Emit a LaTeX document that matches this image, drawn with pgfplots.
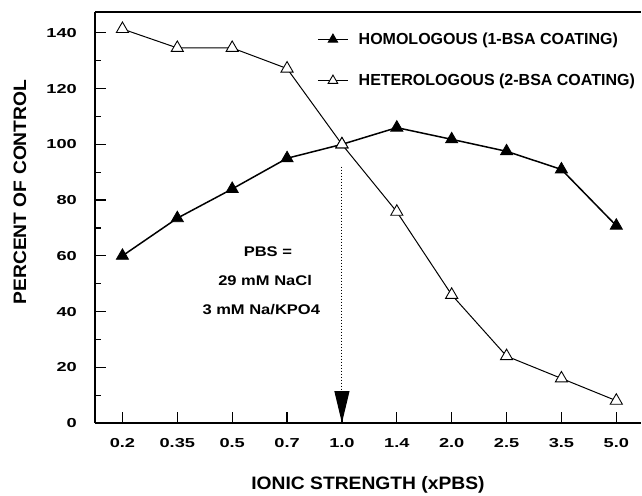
\documentclass[border=0pt]{standalone}
\usepackage{fontspec}
\setmainfont{Liberation Sans}
\newfontfamily\bsf{Liberation Sans Bold}
\usepackage{graphicx}
\usepackage{pgfplots}
\pgfplotsset{compat=1.18}
\usetikzlibrary{arrows.meta}
\newcommand{\wt}[1]{\scalebox{1.4}[1]{#1}}
\newcommand{\wn}[1]{\scalebox{1.18}[1]{#1}}
\newcommand{\wl}[1]{\scalebox{1.07}[1]{#1}}
\begin{document}
\begin{tikzpicture}
\useasboundingbox (-95pt,-72pt) rectangle (547pt,423pt);
\begin{axis}[
  at={(0,0)}, anchor=south west,
  width=546pt, height=411pt, scale only axis,
  xmin=-0.5, xmax=9.45, ymin=0, ymax=147.5,
  axis lines*=left,
  axis line style={line width=2pt},
  x axis line style={line width=2.5pt},
  xtick={0,...,9},
  xticklabels={\wt{0.2},\wt{0.35},\wt{0.5},\wt{0.7},\wt{1.0},\wt{1.4},\wt{2.0},\wt{2.5},\wt{3.5},\wt{5.0}},
  ytick={0,20,...,140},
  yticklabel={\wt{\pgfmathprintnumber{\tick}}},
  minor ytick={10,30,...,130},
  tick align=inside,
  major tick length=11pt, minor tick length=6pt,
  tick style={line width=1.2pt, black},
  /pgf/number format/assume math mode=true,
  tick label style={font=\bsf\fontsize{13}{13}\selectfont},
  yticklabel style={anchor=east, inner sep=0pt, xshift=-18pt},
  xticklabel style={anchor=north, inner sep=0pt, yshift=-15pt},
  xlabel={\wl{IONIC STRENGTH (xPBS)}},
  ylabel={\wl{PERCENT OF CONTROL}},
  xlabel style={font=\bsf\fontsize{18}{18}\selectfont, at={(rel axis cs:0.5,0)}, anchor=center, yshift=-62pt},
  ylabel style={font=\bsf\fontsize{18}{18}\selectfont, at={(rel axis cs:0,0.562)}, anchor=center, yshift=75pt},
  clip=false,
  legend style={at={(rel axis cs:0.4066,0.952)}, anchor=north west, draw=none, fill=none,
    font=\bsf\fontsize{16}{16}\selectfont, inner sep=0pt, row sep=26pt,
    nodes={inner sep=1pt}},
  legend cell align=left,
  legend image code/.code={\draw[mark repeat=2,mark phase=2,#1,mark size=5.5pt] plot coordinates {(0pt,0pt) (15pt,0pt) (30pt,0pt)};},
  /tikz/every odd column/.append style={column sep=9pt},
]
\addplot[black, line width=1.5pt, mark=triangle*, mark size=7pt, mark options={fill=black, solid, line width=0.8pt}]
  coordinates {(0,60) (1,73.5) (2,84) (3,95) (4,100) (5,106) (6,101.8) (7,97.5) (8,91) (9,70.8)};
\addlegendentry{HOMOLOGOUS (1-BSA COATING)}
\addplot[black, line width=1pt, mark=triangle*, mark size=7pt, mark options={fill=white, solid, line width=0.9pt}]
  coordinates {(0,141.4) (1,134.6) (2,134.6) (3,127.2) (4,100) (5,75.8) (6,46) (7,24) (8,16) (9,8)};
\addlegendentry{HETEROLOGOUS (2-BSA COATING)}
\draw[line width=2.5pt] (rel axis cs:0,1) -- (rel axis cs:1,1);
\draw[line width=1.1pt, dash pattern=on 1.5pt off 1.5pt, -{Triangle[length=32pt,width=15pt]}] (axis cs:4,92) -- (axis cs:4,0);
\node[font=\bsf\fontsize{14}{14}\selectfont] at (axis cs:2.65,61.4) {\wn{PBS =}};
\node[font=\bsf\fontsize{14}{14}\selectfont] at (axis cs:2.6,51.3) {\wn{29 mM NaCl}};
\node[font=\bsf\fontsize{14}{14}\selectfont] at (axis cs:2.53,40.6) {\wn{3 mM Na/KPO4}};
\end{axis}
\end{tikzpicture}
\end{document}
